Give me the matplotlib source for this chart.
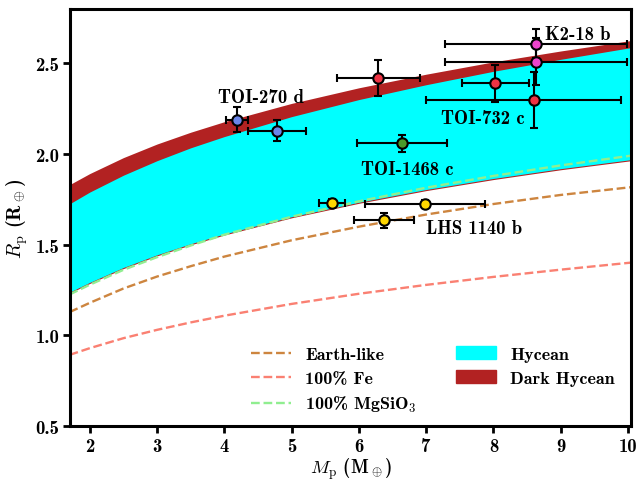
import numpy as np
import matplotlib
matplotlib.use('Agg')
import matplotlib.pyplot as plt
from matplotlib.patches import Patch
from matplotlib.lines import Line2D

plt.rcParams['font.family'] = ['cmb10', 'DejaVu Serif']
plt.rcParams['mathtext.fontset'] = 'cm'
plt.rcParams['axes.unicode_minus'] = False

mass = [1.7, 2, 2.5, 3, 3.5, 4, 5, 6, 7, 8, 9, 10.05]
dark_top = [1.832, 1.893, 1.981, 2.056, 2.121, 2.179, 2.280, 2.366, 2.441, 2.509, 2.569, 2.627]
hycean_top = [1.726, 1.791, 1.884, 1.964, 2.035, 2.097, 2.207, 2.301, 2.383, 2.457, 2.523, 2.588]
hycean_low = [1.239, 1.293, 1.375, 1.445, 1.506, 1.560, 1.655, 1.735, 1.805, 1.866, 1.920, 1.970]
earth_like = [1.129, 1.180, 1.259, 1.325, 1.382, 1.435, 1.525, 1.600, 1.667, 1.725, 1.775, 1.818]
iron = [0.893, 0.930, 0.985, 1.031, 1.072, 1.109, 1.174, 1.230, 1.279, 1.323, 1.363, 1.402]
mgsio3 = [1.226, 1.280, 1.362, 1.432, 1.496, 1.556, 1.655, 1.740, 1.815, 1.880, 1.938, 1.992]

# Planets: mass, mass errors (low, high), radius, radius error, colour
p_mass = [4.19, 4.78, 6.29, 6.64, 5.60, 6.98, 6.37, 8.03, 8.60, 8.63, 8.63]
p_mlo = [0.16, 0.43, 0.62, 0.67, 0.19, 0.89, 0.45, 0.50, 1.60, 1.35, 1.35]
p_mhi = [0.16, 0.43, 0.62, 0.67, 0.19, 0.89, 0.45, 0.50, 1.30, 1.35, 1.35]
p_rad = [2.19, 2.13, 2.42, 2.06, 1.73, 1.725, 1.635, 2.39, 2.30, 2.61, 2.51]
p_rerr = [0.07, 0.058, 0.10, 0.046, 0.02, 0.022, 0.043, 0.10, 0.155, 0.08, 0.13]
p_col = ['#6A85E8', '#6A85E8', '#EE3344', '#4A9A2A', '#FFD700', '#FFD700', '#FFD700',
         '#EE3344', '#EE3344', '#EE44CC', '#EE44CC']

names = ['TOI-270 d', 'K2-18 b', 'TOI-732 c', 'TOI-1468 c', 'LHS 1140 b']
name_x = [4.55, 8.76, 7.84, 6.72, 7.0]
name_y = [2.315, 2.665, 2.20, 1.92, 1.59]
name_ha = ['center', 'left', 'center', 'center', 'left']

fig, ax = plt.subplots(figsize=(6.39, 4.81), dpi=100)
fig.subplots_adjust(left=0.11, right=0.988, top=0.979, bottom=0.112)

ax.fill_between(mass, [v - 0.006 for v in hycean_low], dark_top, color='#B22222', lw=0)
ax.fill_between(mass, hycean_low, hycean_top, color='#00FFFF', lw=0)
ax.plot(mass, earth_like, '--', color='#CD853F', lw=1.7)
ax.plot(mass, iron, '--', color='#FA8072', lw=1.7)
ax.plot(mass, mgsio3, '--', color='#90EE90', lw=1.7)

for i in range(len(p_mass)):
    ax.errorbar(p_mass[i], p_rad[i], xerr=[[p_mlo[i]], [p_mhi[i]]], yerr=p_rerr[i], fmt='o',
                color='black', ecolor='black', elinewidth=1.5, capsize=3, capthick=1.5,
                ms=7.5, mfc=p_col[i], mec='black', mew=1.5, zorder=5)

for n, x, y, ha in zip(names, name_x, name_y, name_ha):
    ax.text(x, y, n, ha=ha, va='center', fontsize=13.5, zorder=6)

ax.set_xlim(1.71, 10.05)
ax.set_ylim(0.5, 2.8)
ax.set_xticks([2, 3, 4, 5, 6, 7, 8, 9, 10])
ax.set_yticks([0.5, 1.0, 1.5, 2.0, 2.5])
ax.set_yticklabels(['0.5', '1.0', '1.5', '2.0', '2.5'])
ax.tick_params(labelsize=13.5, width=2, length=5, direction='out', pad=3)
for s in ax.spines.values():
    s.set_linewidth(2.2)

ax.set_xlabel(r'$M_\mathrm{p}$ (M$_\oplus$)', fontsize=13.5, labelpad=0)
ax.set_ylabel(r'$R_\mathrm{p}$ (R$_\oplus$)', fontsize=14.5, labelpad=4)

handles = [Line2D([], [], ls='--', color='#CD853F', lw=1.7),
           Line2D([], [], ls='--', color='#FA8072', lw=1.7),
           Line2D([], [], ls='--', color='#90EE90', lw=1.7),
           Patch(color='#00FFFF'), Patch(color='#B22222')]
labels = ['Earth-like', '100% Fe', '100% MgSiO$_3$', 'Hycean', 'Dark Hycean']
ax.legend(handles, labels, ncol=2, frameon=False, fontsize=13, loc='lower right',
          bbox_to_anchor=(1.0, -0.01), handlelength=2.2, columnspacing=2.2,
          labelspacing=0.45)

fig.savefig('out.png', dpi=100)
